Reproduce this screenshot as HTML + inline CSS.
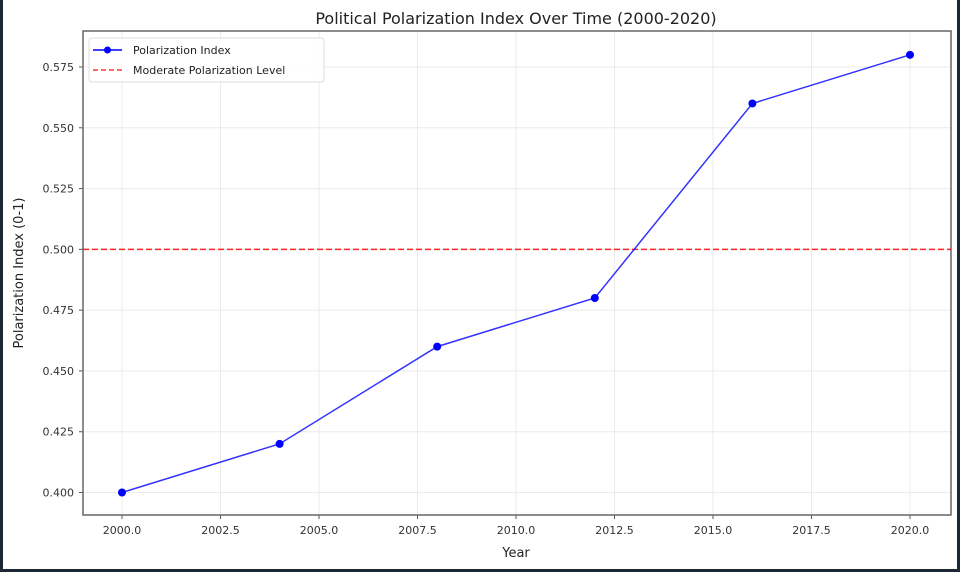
<!DOCTYPE html>
<html><head><meta charset="utf-8"><style>
html,body{margin:0;padding:0;background:#fff}
svg{display:block;font-family:"DejaVu Sans","Liberation Sans",sans-serif}
</style></head><body>
<svg id="chart" width="960" height="572" viewBox="0 0 960 572">
<rect x="0" y="0" width="960" height="572" fill="#1c2833"/>
<rect x="3" y="0" width="954" height="569" fill="#fff"/>
<text x="516" y="24" text-anchor="middle" font-size="16" fill="#222">Political Polarization Index Over Time (2000-2020)</text>
<g id="grid"></g>
<g id="axes"></g>
<g id="series"></g>
<text x="516" y="557" text-anchor="middle" font-size="13" fill="#222">Year</text>
<text transform="translate(23,273) rotate(-90)" text-anchor="middle" font-size="13" fill="#222">Polarization Index (0-1)</text>
<g>
<rect x="89" y="38" width="235" height="44" fill="#fff" fill-opacity="0.85" stroke="#ddd" rx="3"/>
<g>
<line x1="93" y1="50" x2="122" y2="50" stroke="#0000ff" stroke-width="1.5"/>
<circle cx="107.5" cy="50" r="3.5" fill="#0000ff"/>
<text x="133" y="54" font-size="11" fill="#222">Polarization Index</text></g>
<g>
<line x1="93" y1="70" x2="122" y2="70" stroke="#ff0000" stroke-opacity="0.8" stroke-width="1.5" stroke-dasharray="5,3"/>
<text x="133" y="74" font-size="11" fill="#222">Moderate Polarization Level</text></g>
</g>
</svg>
<script>
const years=[2000,2004,2008,2012,2016,2020];
const values=[0.40,0.42,0.46,0.48,0.56,0.58];
const threshold=0.5;
const xTicks=[2000,2002.5,2005,2007.5,2010,2012.5,2015,2017.5,2020];
const yTicks=[0.400,0.425,0.450,0.475,0.500,0.525,0.550,0.575];
const L=83,R=951,T=31,B=515;
const xs=v=>122+(v-2000)*(910-122)/20;
const ys=v=>492.5-(v-0.4)*(492.5-67)/0.175;
const NS='http://www.w3.org/2000/svg';
function mk(t,a,p){const e=document.createElementNS(NS,t);for(const k in a)e.setAttribute(k,a[k]);p.appendChild(e);return e;}
const grid=document.getElementById('grid'),axes=document.getElementById('axes'),series=document.getElementById('series');
xTicks.forEach(v=>{const x=xs(v);
const g=mk('line',{x1:x,x2:x,y1:T,y2:B,stroke:'#ebebeb','stroke-width':1},grid);


mk('line',{x1:x,x2:x,y1:B,y2:B+4,stroke:'#555'},axes);
const t=mk('text',{x:x,y:B+19,'text-anchor':'middle','font-size':11,fill:'#333'},axes);t.textContent=v.toFixed(1);

});
yTicks.forEach(v=>{const y=ys(v);
const g=mk('line',{x1:L,x2:R,y1:y,y2:y,stroke:'#ebebeb','stroke-width':1},grid);


mk('line',{x1:L-4,x2:L,y1:y,y2:y,stroke:'#555'},axes);
const t=mk('text',{x:L-9,y:y+4,'text-anchor':'end','font-size':11,fill:'#333'},axes);t.textContent=v.toFixed(3);

});
const frame=mk('rect',{x:L,y:T,width:R-L,height:B-T,fill:'none',stroke:'#666','stroke-width':1.5},axes);


const th=mk('line',{x1:L,x2:R,y1:ys(threshold),y2:ys(threshold),stroke:'#ff0000','stroke-opacity':0.85,'stroke-width':1.5,'stroke-dasharray':'6,3'},series);


const pl=mk('polyline',{points:years.map((y,i)=>xs(y)+','+ys(values[i])).join(' '),fill:'none',stroke:'#0000ff','stroke-opacity':0.8,'stroke-width':1.5},series);


years.forEach((y,i)=>{const c=mk('circle',{cx:xs(y),cy:ys(values[i]),r:4,fill:'#0000ff'},series);

});
</script>
</body></html>
